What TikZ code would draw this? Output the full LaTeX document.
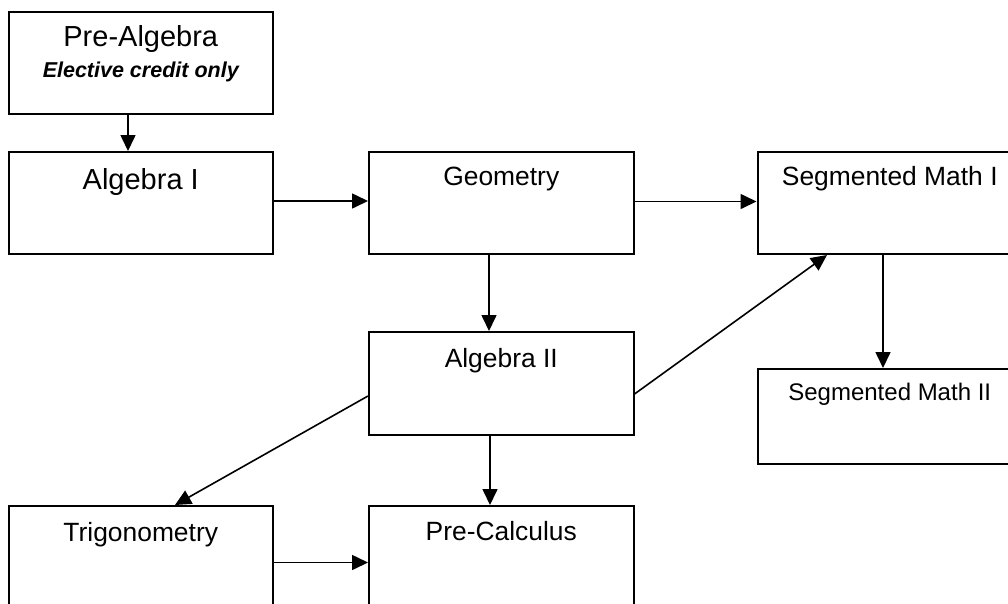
\documentclass[tikz,border=0pt]{standalone}
\usepackage{fontspec}
\setmainfont{Liberation Sans}
\usetikzlibrary{arrows.meta}
\tikzset{
  box/.style={draw, line width=2pt, rectangle, anchor=north west, inner sep=0pt, minimum width=264.5pt},
  lbl/.style={anchor=base, inner sep=0pt},
  big/.style={font=\fontsize{29}{34}\selectfont},
  mid/.style={font=\fontsize{26.4}{31}\selectfont},
  sml/.style={font=\fontsize{24}{29}\selectfont},
  note/.style={font=\fontsize{21.5}{26}\selectfont\bfseries\itshape},
  arr/.style={line width=1.6pt, -{Triangle[length=16pt,width=15pt]}}
}
\begin{document}
\begin{tikzpicture}[x=1pt,y=-1pt]
\useasboundingbox (0,0) rectangle (1008,603);
\clip (0,0) rectangle (1008,603);
% boxes
\node[box, minimum height=102.5pt] (prealg) at (7.5,10.5) {};
\node[box, minimum height=101.5pt] (alg1) at (7.5,151) {};
\node[box, minimum height=102pt] (geo) at (368,151) {};
\node[box, minimum height=102pt] (sm1) at (756.5,151) {};
\node[box, minimum height=103pt] (alg2) at (368,331) {};
\node[box, minimum height=95pt] (sm2) at (756.5,368) {};
\node[box, minimum height=104pt] (trig) at (7.5,505) {};
\node[box, minimum height=104pt] (pcalc) at (368,505) {};
% labels
\node[lbl, big] (prealg-t) at ([yshift=-36.2pt]prealg.north) {Pre-Algebra};
\node[lbl, note] (prealg-n) at ([yshift=-66.8pt]prealg.north) {Elective credit only};
\node[lbl, big] (alg1-t) at ([yshift=-38.3pt]alg1.north) {Algebra I};
\node[lbl, mid] (geo-t) at ([yshift=-34.5pt]geo.north) {Geometry};
\node[lbl, mid] (sm1-t) at ([yshift=-34.5pt]sm1.north) {Segmented Math I};
\node[lbl, mid] (alg2-t) at ([yshift=-36.3pt]alg2.north) {Algebra II};
\node[lbl, sml] (sm2-t) at ([yshift=-32.7pt]sm2.north) {Segmented Math II};
\node[lbl, mid] (trig-t) at ([yshift=-36.5pt]trig.north) {Trigonometry};
\node[lbl, mid] (pcalc-t) at ([yshift=-35.7pt]pcalc.north) {Pre-Calculus};
% connectors
\draw[arr] ([xshift=120.5pt]prealg.south west) -- ([xshift=120.5pt]alg1.north west);
\draw[arr] ([yshift=-50pt]alg1.north east) -- ([yshift=-50pt]geo.north west);
\draw[arr] ([yshift=-50.5pt]geo.north east) -- ([yshift=-50.5pt]sm1.north west);
\draw[arr] ([xshift=121pt]geo.south west) -- ([xshift=121pt]alg2.north west);
\draw[arr] ([yshift=-63pt]alg2.north east) -- ([xshift=70.5pt]sm1.south west);
\draw[arr] ([xshift=126.5pt]sm1.south west) -- ([xshift=126.5pt]sm2.north west);
\draw[arr] ([yshift=-65pt]alg2.north west) -- ([xshift=167.5pt]trig.north west);
\draw[arr] ([xshift=122pt]alg2.south west) -- ([xshift=122pt]pcalc.north west);
\draw[arr] ([yshift=-57.5pt]trig.north east) -- ([yshift=-57.5pt]pcalc.north west);
\end{tikzpicture}
\end{document}
